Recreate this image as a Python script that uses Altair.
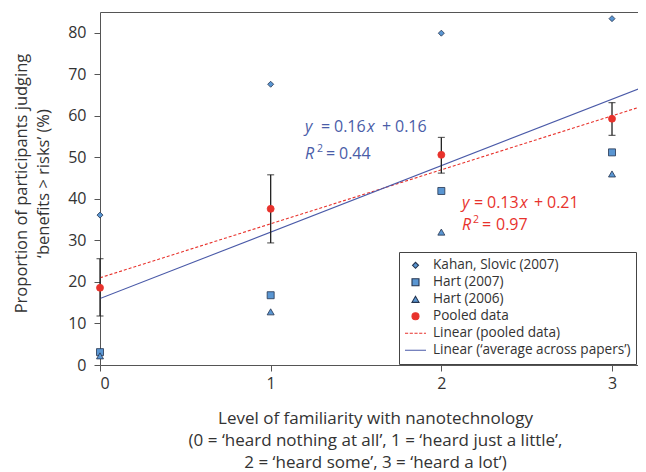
import altair as alt
import pandas as pd

FONT = "Open Sans"
TEXT = "#333333"
AXIS = "#555555"
BLUE_LINE = "#4a5aa8"
BLUE_TEXT = "#4a5da8"
RED = "#e8322c"
MARK_FILL = "#5a96d2"
MARK_EDGE = "#24344f"

# ---- data ----
levels = [0, 1, 2, 3]
kahan_slovic_2007 = [36.1, 67.6, 79.9, 83.4]
hart_2007 = [3.1, 16.8, 41.9, 51.2]
hart_2006 = [2.2, 12.8, 32.0, 46.0]
pooled = [18.6, 37.6, 50.6, 59.3]
pooled_low = [11.8, 29.4, 46.2, 55.3]
pooled_high = [25.6, 45.8, 54.8, 63.2]

series_names = [
    "Kahan, Slovic (2007)",
    "Hart (2007)",
    "Hart (2006)",
    "Pooled data",
    "Linear (pooled data)",
    "Linear (\u2018average across papers\u2019)",
]
fit_names = series_names[4:]
fit_slopes = [0.13, 0.16]
fit_intercepts = [0.21, 0.16]
fit_x_range = [0, 3.3]

y_ticks = [0, 10, 20, 30, 40, 50, 60, 70, 80]

# ---- tables ----
marker_values = [kahan_slovic_2007, hart_2007, hart_2006, pooled]
pts = pd.DataFrame({
    "level": levels * 4,
    "value": sum(marker_values, []),
    "series": [s for s in series_names[:4] for _ in levels],
})
err = pd.DataFrame({"level": levels, "lo": pooled_low, "hi": pooled_high})
fits = pd.DataFrame([
    {"series": n, "level": x, "value": 100 * (m * x + b)}
    for n, m, b in zip(fit_names, fit_slopes, fit_intercepts)
    for x in fit_x_range
])

PLOT_W = 538
PLOT_H = 353
xs = alt.Scale(domain=[0, 3.1523], nice=False, zero=False)
ys = alt.Scale(domain=[0, 85], nice=False)

x_axis = alt.Axis(
    values=levels, format="d", grid=False,
    title=["Level of familiarity with nanotechnology",
           "(0 = \u2018heard nothing at all\u2019, 1 = \u2018heard just a little\u2019,",
           "2 = \u2018heard some\u2019, 3 = \u2018heard a lot\u2019)"],
    titleX=275, titleY=58, titleAlign="center", titleBaseline="alphabetic",
    titleLineHeight=22, titleFontSize=17,
    tickSize=6, labelPadding=4,
)
y_axis = alt.Axis(
    values=y_ticks, grid=False,
    title=["Proportion of participants judging", "\u2018benefits > risks\u2019 (%)"],
    titleX=-74, titleY=171, titleAngle=270, titleAlign="center",
    titleBaseline="alphabetic", titleLineHeight=22, titleFontSize=16.5,
    tickSize=6, labelPadding=8,
)
top_axis = alt.Axis(orient="top", labels=False, ticks=False, title=None, grid=False)

def X(field="level:Q", axis=None):
    return alt.X(field, scale=xs, axis=axis)

def Y(field="value:Q"):
    return alt.Y(field, scale=ys, axis=y_axis)

# regression lines
line_red = alt.Chart(fits[fits.series == fit_names[0]]).mark_line(
    color=RED, strokeDash=[3, 2], strokeWidth=1.1, clip=True
).encode(x=X(axis=x_axis), y=Y())
line_blue = alt.Chart(fits[fits.series == fit_names[1]]).mark_line(
    color=BLUE_LINE, strokeWidth=1.1, clip=True
).encode(x=X(), y=Y())

# error bars
err_rule = alt.Chart(err).mark_rule(color="#222222", strokeWidth=1.3).encode(
    x=X(axis=top_axis), y=Y("lo:Q"), y2="hi:Q")
cap_lo = alt.Chart(err).mark_tick(orient="horizontal", color="#222222", size=7, thickness=1.2).encode(
    x=X(), y=Y("lo:Q"))
cap_hi = alt.Chart(err).mark_tick(orient="horizontal", color="#222222", size=7, thickness=1.2).encode(
    x=X(), y=Y("hi:Q"))

# markers + combined legend
dash_path = "M-1,0H-0.7M-0.55,0H-0.25M-0.1,0H0.2M0.35,0H0.65M0.8,0H1"
solid_path = "M-1,0H1"
legend = alt.Legend(
    title=None, orient="none", legendX=299, legendY=240,
    padding=5, strokeColor="#444444", fillColor="white",
    labelFont=FONT, labelFontSize=13.6, labelColor=TEXT, labelLimit=400,
    clipHeight=16.6, rowPadding=0, labelOffset=6, symbolStrokeWidth=1.1,
)
dom = series_names
points = alt.Chart(pts).mark_point(filled=True, opacity=1, strokeWidth=0.8).encode(
    x=X(), y=Y(),
    shape=alt.Shape("series:N", scale=alt.Scale(domain=dom, range=[
        "diamond", "square", "triangle-up", "circle", dash_path, solid_path]), legend=legend),
    fill=alt.Fill("series:N", scale=alt.Scale(domain=dom, range=[
        MARK_FILL, MARK_FILL, MARK_FILL, RED, "transparent", "transparent"]), legend=legend),
    stroke=alt.Stroke("series:N", scale=alt.Scale(domain=dom, range=[
        MARK_EDGE, MARK_EDGE, MARK_EDGE, RED, RED, BLUE_LINE]), legend=legend),
    size=alt.Size("series:N", scale=alt.Scale(type="ordinal", domain=dom, range=[
        36, 49, 49, 49, 441, 441]), legend=legend),
)

# equation annotations (token-by-token for italics / superscript)
def eq_block(ax, ay, color, line1, line2, dy2):
    anchor = pd.DataFrame({"ax": [ax], "ay": [ay]})
    layers = []
    for tok, ital, dx in line1:
        layers.append(alt.Chart(anchor).mark_text(
            text=tok, align="left", baseline="alphabetic", dx=dx, dy=0,
            font=FONT, fontSize=16, fontStyle="italic" if ital else "normal", color=color
        ).encode(x=X("ax:Q"), y=Y("ay:Q")))
    for tok, ital, dx, sup in line2:
        layers.append(alt.Chart(anchor).mark_text(
            text=tok, align="left", baseline="alphabetic", dx=dx, dy=dy2 - (7 if sup else 0),
            font=FONT, fontSize=10.5 if sup else 16,
            fontStyle="italic" if ital else "normal", color=color
        ).encode(x=X("ax:Q"), y=Y("ay:Q")))
    return layers

blue_eq = eq_block(
    1.2012, 56.1, BLUE_TEXT,
    [("y", True, 0), ("=", False, 16), ("0.16", False, 29), ("x", True, 62), ("+", False, 77), ("0.16", False, 90)],
    [("R", True, 0, False), ("2", False, 12, True), ("=", False, 21, False), ("0.44", False, 34, False)],
    27,
)
red_eq = eq_block(
    2.1211, 37.8, RED,
    [("y", True, 0), ("=", False, 12), ("0.13", False, 25), ("x", True, 58), ("+", False, 72), ("0.21", False, 85)],
    [("R", True, 0, False), ("2", False, 11, True), ("=", False, 20, False), ("0.97", False, 34, False)],
    22,
)

chart = alt.layer(
    line_red, line_blue, err_rule, cap_lo, cap_hi, points, *blue_eq, *red_eq
).resolve_axis(x="independent").properties(
    width=PLOT_W, height=PLOT_H,
    autosize=alt.AutoSizeParams(type="none"),
    padding={"left": 92, "top": 4, "right": 0, "bottom": 107},
).configure_view(stroke=None).configure_axis(
    domainColor=AXIS, tickColor=AXIS, domainWidth=1, tickWidth=1,
    labelFont=FONT, labelFontSize=16, labelColor=TEXT,
    titleFont=FONT, titleFontSize=16, titleColor=TEXT, titleFontWeight="normal",
)

chart.save("out.html", embed_options={"renderer": "svg", "actions": False})
